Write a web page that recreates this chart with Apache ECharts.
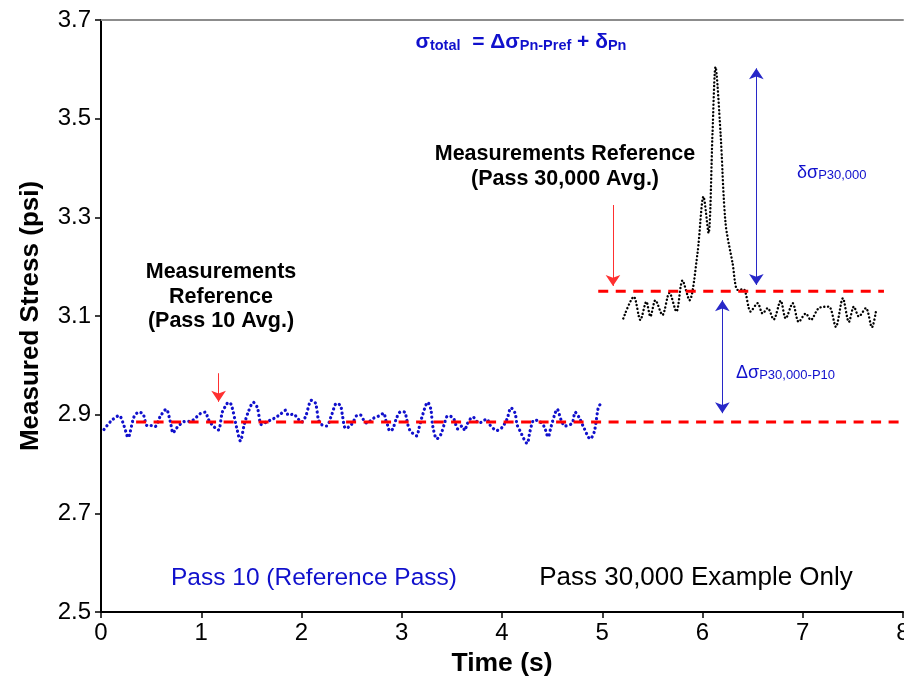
<!DOCTYPE html>
<html>
<head>
<meta charset="utf-8">
<title>Measured Stress vs Time</title>
<script src="https://cdn.jsdelivr.net/npm/echarts@6/dist/echarts.min.js"></script>
<style>
  html, body { margin: 0; padding: 0; background: #ffffff; }
  #chart { width: 904px; height: 679px; }
</style>
</head>
<body>
<div id="chart"></div>
<script>
// Pass 10 (reference pass) stress trace
const pass10Time = [0.03, 0.10, 0.18, 0.23, 0.27, 0.33, 0.38, 0.42, 0.46, 0.50, 0.54, 0.59, 0.65, 0.69, 0.72, 0.75,
  0.83, 0.90, 0.99, 1.04, 1.07, 1.11, 1.17, 1.21, 1.25, 1.27, 1.30, 1.355, 1.39, 1.43, 1.47, 1.52, 1.56, 1.60,
  1.65, 1.69, 1.74, 1.79, 1.84, 1.87, 1.92, 1.96, 2.00, 2.04, 2.10, 2.14, 2.17, 2.20, 2.25, 2.30, 2.35, 2.39,
  2.41, 2.44, 2.49, 2.52, 2.55, 2.59, 2.62, 2.65, 2.72, 2.78, 2.82, 2.84, 2.86, 2.88, 2.91, 2.95, 2.99, 3.03,
  3.05, 3.08, 3.15, 3.17, 3.20, 3.26, 3.29, 3.31, 3.35, 3.39, 3.43, 3.45, 3.48, 3.52, 3.56, 3.60, 3.63, 3.65,
  3.69, 3.71, 3.77, 3.85, 3.88, 3.95, 4.00, 4.05, 4.09, 4.13, 4.15, 4.18, 4.25, 4.28, 4.32, 4.37, 4.42, 4.46,
  4.49, 4.53, 4.55, 4.59, 4.63, 4.70, 4.73, 4.77, 4.82, 4.88, 4.92, 4.96, 4.98];
const pass10Stress = [2.870, 2.887, 2.898, 2.877, 2.854, 2.896, 2.905, 2.901, 2.878, 2.878, 2.876, 2.896, 2.911, 2.887, 2.863, 2.872,
  2.886, 2.887, 2.902, 2.905, 2.891, 2.879, 2.869, 2.905, 2.920, 2.925, 2.920, 2.872, 2.847, 2.881, 2.906, 2.925, 2.914, 2.880,
  2.885, 2.889, 2.894, 2.901, 2.909, 2.899, 2.901, 2.893, 2.885, 2.896, 2.929, 2.923, 2.889, 2.880, 2.877, 2.899, 2.923, 2.918,
  2.896, 2.872, 2.878, 2.887, 2.898, 2.899, 2.889, 2.883, 2.893, 2.898, 2.903, 2.889, 2.878, 2.867, 2.871, 2.894, 2.906, 2.905,
  2.889, 2.869, 2.857, 2.871, 2.894, 2.925, 2.911, 2.876, 2.851, 2.860, 2.885, 2.896, 2.897, 2.891, 2.871, 2.877, 2.868, 2.880,
  2.893, 2.895, 2.883, 2.891, 2.879, 2.868, 2.874, 2.891, 2.914, 2.903, 2.880, 2.867, 2.842, 2.867, 2.889, 2.887, 2.876, 2.855,
  2.876, 2.903, 2.911, 2.889, 2.877, 2.883, 2.905, 2.894, 2.872, 2.851, 2.865, 2.914, 2.921];

// Pass 30,000 stress trace
const pass30kTime = [5.21, 5.315, 5.38, 5.44, 5.48, 5.53, 5.60, 5.67, 5.74, 5.80, 5.87, 5.95, 6.01, 6.06, 6.10, 6.13,
  6.18, 6.23, 6.30, 6.35, 6.41, 6.48, 6.55, 6.60, 6.65, 6.71, 6.78, 6.83, 6.90, 6.96, 7.03, 7.08, 7.16, 7.26,
  7.33, 7.40, 7.46, 7.51, 7.56, 7.63, 7.69, 7.73];
const pass30kStress = [3.095, 3.139, 3.092, 3.129, 3.099, 3.132, 3.102, 3.147, 3.109, 3.172, 3.132, 3.227, 3.342, 3.268, 3.471, 3.605,
  3.470, 3.288, 3.207, 3.153, 3.154, 3.109, 3.126, 3.105, 3.116, 3.093, 3.131, 3.095, 3.126, 3.088, 3.105, 3.092, 3.116, 3.119,
  3.078, 3.136, 3.088, 3.119, 3.099, 3.116, 3.077, 3.109];

// Reference averages: [start time, end time, stress]
const refPass10 = [0.35, 8.0, 2.885];
const refPass30k = [4.96, 7.81, 3.15];

// Pointer arrows: [time, from stress, to stress]
const redArrows = [[1.173, 2.984, 2.926], [5.107, 3.325, 3.161]];
const blueDoubleArrows = [[6.537, 3.163, 3.602], [6.198, 2.903, 3.132]];

// Axis ticks
const yTicks = [2.5, 2.7, 2.9, 3.1, 3.3, 3.5, 3.7];

const zip = (xs, ys) => xs.map((x, i) => [x, ys[i]]);

const BLUE = '#1010cc';
const chart = echarts.init(document.getElementById('chart'), null, { renderer: 'canvas' });

const font = 'Liberation Sans, Arial, sans-serif';

const option = {
  animation: false,
  backgroundColor: '#ffffff',
  grid: { left: 101, top: 20, right: 1, bottom: 67, containLabel: false, outerBoundsMode: 'none' },
  xAxis: [{
    type: 'value', min: 0, max: 8, interval: 1,
    name: 'Time (s)', nameLocation: 'middle', nameGap: 36,
    nameTextStyle: { fontFamily: font, fontSize: 26.5, fontWeight: 'bold', color: '#000' },
    axisLine: { onZero: false, lineStyle: { color: '#000', width: 2 } },
    axisTick: { show: true, length: 6, lineStyle: { color: '#000', width: 1.5 } },
    axisLabel: { fontFamily: font, fontSize: 24, color: '#000', margin: 9 },
    splitLine: { show: false }
  }, {
    type: 'value', min: 0, max: 8, position: 'top',
    axisLine: { onZero: false, lineStyle: { color: '#8c8c8c', width: 2 } },
    axisTick: { show: false }, axisLabel: { show: false }, splitLine: { show: false }
  }],
  yAxis: {
    type: 'value', min: 2.5, max: 3.7,
    name: 'Measured Stress (psi)', nameLocation: 'middle', nameGap: 57,
    nameTextStyle: { fontFamily: font, fontSize: 26, fontWeight: 'bold', color: '#000' },
    axisLine: { show: true, onZero: false, lineStyle: { color: '#000', width: 2 } },
    axisTick: { show: true, length: 6, customValues: yTicks, lineStyle: { color: '#000', width: 1.5 } },
    axisLabel: { fontFamily: font, fontSize: 24, color: '#000', margin: 10, customValues: yTicks,
      formatter: v => v.toFixed(1) },
    splitLine: { show: false }
  },
  series: [
    {
      name: 'Pass 10', type: 'line', data: zip(pass10Time, pass10Stress),
      smooth: 0.3, showSymbol: false, silent: true,
      lineStyle: { color: BLUE, width: 3.2, type: [0.1, 4.6], cap: 'round' },
      z: 3
    },
    {
      name: 'Pass 30,000', type: 'line', data: zip(pass30kTime, pass30kStress),
      smooth: 0.3, showSymbol: false, silent: true,
      lineStyle: { color: '#000', width: 2.4, type: [0.1, 3.6], cap: 'round' },
      z: 3
    },
    {
      name: 'Pass 10 Avg.', type: 'line',
      data: [[refPass10[0], refPass10[2]], [refPass10[1], refPass10[2]]],
      showSymbol: false, silent: true,
      lineStyle: { color: '#ff0000', width: 3, type: [10, 7.5] }, z: 4
    },
    {
      name: 'Pass 30,000 Avg.', type: 'line',
      data: [[refPass30k[0], refPass30k[2]], [refPass30k[1], refPass30k[2]]],
      showSymbol: false, silent: true,
      lineStyle: { color: '#ff0000', width: 3, type: [10, 7.5] }, z: 4
    },
    {
      name: 'red pointers', type: 'line', data: [], silent: true,
      markLine: {
        silent: true, symbol: ['none', 'arrow'], symbolSize: 11, precision: 4,
        label: { show: false },
        lineStyle: { color: '#ff3030', width: 1, type: 'solid' },
        data: redArrows.map(a => [{ coord: [a[0], a[1]] }, { coord: [a[0], a[2]] }])
      }
    },
    {
      name: 'blue pointers', type: 'line', data: [], silent: true,
      markLine: {
        silent: true, symbol: ['arrow', 'arrow'], symbolSize: 11, precision: 4,
        label: { show: false },
        lineStyle: { color: '#2828c8', width: 1, type: 'solid' },
        data: blueDoubleArrows.map(a => [{ coord: [a[0], a[1]] }, { coord: [a[0], a[2]] }])
      }
    }
  ],
  graphic: [
    {
      type: 'text',
      style: {
        x: 521, y: 41, align: 'center', verticalAlign: 'middle',
        text: '{m|σ}{s|total}{m|  = Δσ}{s|Pn-Pref}{m| + δ}{s|Pn}',
        fill: BLUE, fontFamily: font, fontWeight: 'bold',
        rich: {
          m: { fontSize: 21, fontWeight: 'bold', fill: BLUE, fontFamily: font, lineHeight: 24, verticalAlign: 'bottom' },
          s: { fontSize: 14.5, fontWeight: 'bold', fill: BLUE, fontFamily: font, lineHeight: 11, verticalAlign: 'bottom' }
        }
      }
    },
    {
      type: 'text',
      style: {
        x: 565, y: 167, align: 'center', verticalAlign: 'middle',
        text: 'Measurements Reference\n(Pass 30,000 Avg.)',
        fill: '#000', fontFamily: font, fontSize: 21.5, fontWeight: 'bold', lineHeight: 25
      }
    },
    {
      type: 'text',
      style: {
        x: 221, y: 297, align: 'center', verticalAlign: 'middle',
        text: 'Measurements\nReference\n(Pass 10 Avg.)',
        fill: '#000', fontFamily: font, fontSize: 21.5, fontWeight: 'bold', lineHeight: 24.5
      }
    },
    {
      type: 'text',
      style: {
        x: 797, y: 172, align: 'left', verticalAlign: 'middle',
        text: '{m|δσ}{s|P30,000}',
        rich: {
          m: { fontSize: 18, fill: BLUE, fontFamily: font, lineHeight: 20, verticalAlign: 'bottom' },
          s: { fontSize: 13, fill: BLUE, fontFamily: font, lineHeight: 10, verticalAlign: 'bottom' }
        }
      }
    },
    {
      type: 'text',
      style: {
        x: 736, y: 372, align: 'left', verticalAlign: 'middle',
        text: '{m|Δσ}{s|P30,000-P10}',
        rich: {
          m: { fontSize: 18, fill: BLUE, fontFamily: font, lineHeight: 20, verticalAlign: 'bottom' },
          s: { fontSize: 13, fill: BLUE, fontFamily: font, lineHeight: 10, verticalAlign: 'bottom' }
        }
      }
    },
    {
      type: 'text',
      style: {
        x: 314, y: 578, align: 'center', verticalAlign: 'middle',
        text: 'Pass 10 (Reference Pass)',
        fill: BLUE, fontFamily: font, fontSize: 24.5
      }
    },
    {
      type: 'text',
      style: {
        x: 696, y: 578, align: 'center', verticalAlign: 'middle',
        text: 'Pass 30,000 Example Only',
        fill: '#000', fontFamily: font, fontSize: 26
      }
    }
  ]
};

chart.setOption(option);
</script>
</body>
</html>
